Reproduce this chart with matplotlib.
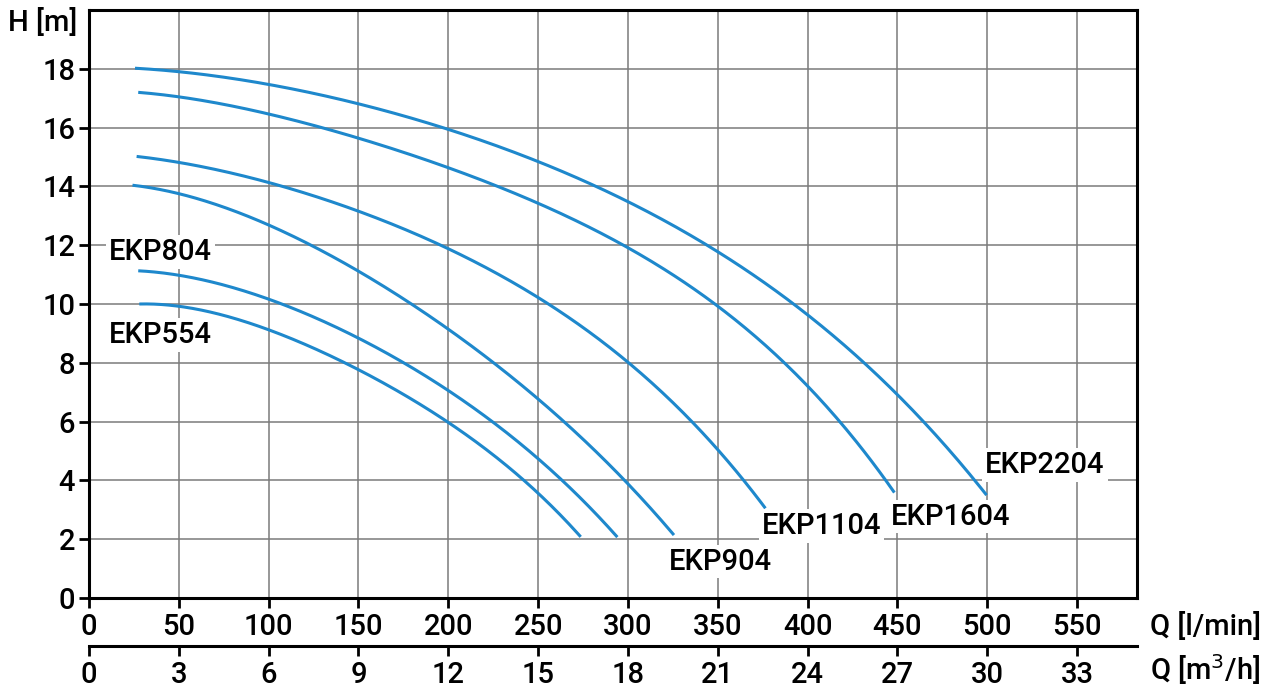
import matplotlib
matplotlib.use("Agg")
import matplotlib.pyplot as plt
import numpy as np

plt.rcParams['font.family'] = ['Roboto', 'DejaVu Sans']
plt.rcParams['font.weight'] = 'medium'

# ---- data ----
q_554 = [28, 50, 100, 141.3, 150, 200, 250, 273.7]
h_554 = [10.0, 9.93, 9.12, 8.0, 7.8, 5.97, 3.56, 2.08]

q_804 = [27.4, 50, 100, 150, 172.8, 200, 250, 294.1]
h_804 = [11.13, 10.93, 10.2, 8.88, 8.0, 7.08, 4.75, 2.07]

q_904 = [24.2, 50, 100, 150, 200, 250, 262.6, 300, 325.6]
h_904 = [14.04, 13.75, 12.69, 11.1, 9.18, 6.79, 6.0, 3.96, 2.14]

q_1104 = [26.5, 50, 100, 150, 200, 250, 300, 335.7, 350, 365.4, 376.5]
h_1104 = [15.02, 14.79, 14.13, 13.15, 11.95, 10.15, 8.0, 6.0, 5.09, 3.96, 3.05]

q_1604 = [27.4, 50, 100, 150, 200, 250, 300, 350, 385.7, 400, 418.1, 439.4, 448.3]
h_1604 = [17.2, 17.0, 16.46, 15.64, 14.68, 13.43, 11.84, 10.0, 8.0, 7.19, 6.0, 4.58, 3.58]

q_2204 = [25.6, 50, 100, 150, 200, 250, 300, 350, 400, 430.2, 450, 464.4, 493, 499.6]
h_2204 = [18.02, 17.9, 17.45, 16.83, 15.96, 14.81, 13.45, 11.84, 9.63, 8.0, 6.96, 6.0, 4.0, 3.5]

series_names = ["EKP554", "EKP804", "EKP904", "EKP1104", "EKP1604", "EKP2204"]
label_q = [11, 11, 322.8, 374.6, 446.5, 498.9]
label_h = [8.95, 11.77, 1.24, 2.45, 2.77, 4.53]

q_ticks = list(range(0, 551, 50))
m3h_ticks = list(range(0, 34, 3))
h_ticks = list(range(0, 19, 2))

FS = 21

# ---- figure ----
W, H = 1277, 693
fig = plt.figure(figsize=(W / 100, H / 100), dpi=100)
left, right, top, bottom = 89, 1137, 10, 598
ax = fig.add_axes([left / W, 1 - bottom / H, (right - left) / W, (bottom - top) / H])

ax.set_xlim(0, 35 * 1000 / 60)
ax.set_ylim(0, 20)

line_color = '#1e88cc'
for q, h in [(q_554, h_554), (q_804, h_804), (q_904, h_904),
             (q_1104, h_1104), (q_1604, h_1604), (q_2204, h_2204)]:
    q = np.asarray(q, float)
    h = np.asarray(h, float)
    # smooth rendering of the read points (weighted least-squares quartic)
    w = np.ones_like(q)
    w[0] = w[-1] = 6
    coef = np.polyfit(q, h, 4, w=w)
    qq = np.linspace(q[0], q[-1], 300)
    ax.plot(qq, np.polyval(coef, qq), color=line_color, lw=2.2,
            solid_capstyle='butt', zorder=3)

ax.set_xticks(q_ticks)
ax.set_yticks(h_ticks)
ax.grid(True, color='#7a7a7a', lw=1.1, zorder=1)
ax.set_axisbelow(True)
ax.tick_params(axis='both', direction='out', length=7, width=2, labelsize=FS, color='black')
ax.tick_params(axis='x', pad=4)
ax.tick_params(axis='y', pad=3)
for s in ax.spines.values():
    s.set_linewidth(2.2)
    s.set_color('black')

for name, x, y in zip(series_names, label_q, label_h):
    ax.text(x, y, name, fontsize=FS, va='center', ha='left', zorder=4,
            bbox=dict(facecolor='white', edgecolor='none', pad=2))

# H label
fig.text(8 / W, 1 - 22 / H, "H [m]", fontsize=FS, ha='left', va='center')

# second axis in m3/h
y2 = 645.5
ax2 = fig.add_axes([left / W, 1 - y2 / H, (right - left) / W, 0.0001])
ax2.set_xlim(0, 35)
ax2.set_xticks(m3h_ticks)
ax2.set_yticks([])
for k in ['top', 'left', 'right']:
    ax2.spines[k].set_visible(False)
ax2.spines['bottom'].set_linewidth(2.2)
ax2.patch.set_visible(False)
ax2.tick_params(axis='x', direction='out', length=7, width=2, labelsize=FS, pad=4)

fig.text(1150 / W, 1 - 627 / H, "Q [l/min]", fontsize=FS, ha='left', va='center')
fig.text(1150 / W, 1 - 670 / H, "Q [m$^3$/h]", fontsize=FS, ha='left', va='center')

fig.savefig("out.png", dpi=100)
